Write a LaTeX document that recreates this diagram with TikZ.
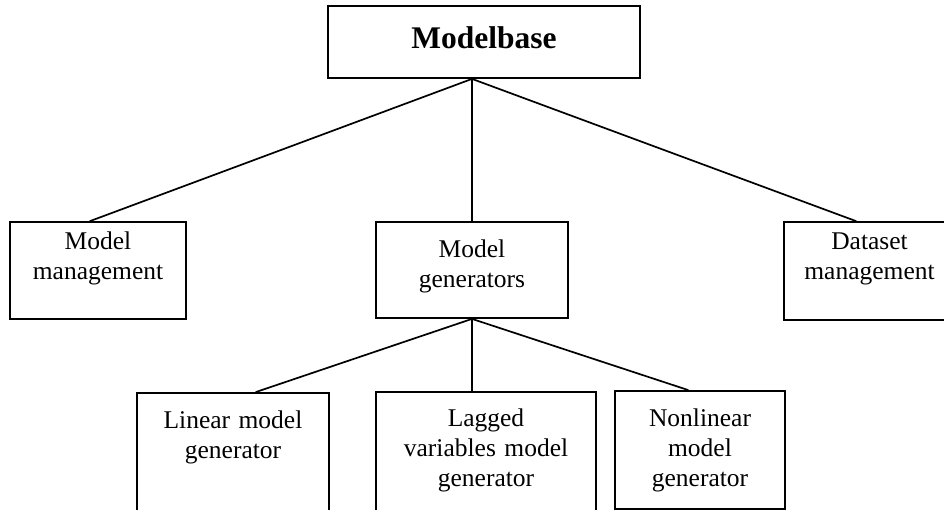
\documentclass[tikz,border=0pt]{standalone}
\usepackage{fontspec}
\setmainfont{Liberation Serif}
\begin{document}
\begin{tikzpicture}[x=1pt,y={(0pt,-1pt)},
  boxst/.style={draw=black,line width=1.8pt,rectangle,inner sep=0pt,fill=white},
  txt/.style={text width=210pt,align=center,anchor=base,inner sep=0pt,
    font=\fontsize{25.5}{30}\selectfont},
  conn/.style={draw=black,line width=1.7pt,line cap=round}]
\clip (0,0) rectangle (944,510);
\fill[white] (0,0) rectangle (944,510);
% boxes
\node[boxst,minimum width=312pt,minimum height=72pt] (mb) at (484,42) {};
\node[boxst,minimum width=176pt,minimum height=97pt] (mm) at (98,270.5) {};
\node[boxst,minimum width=192pt,minimum height=96pt] (mg) at (472,270) {};
\node[boxst,minimum width=171pt,minimum height=98pt] (dm) at (869.5,271) {};
\node[boxst,minimum width=192pt,minimum height=150pt,anchor=north] (lin) at (233,392) {};
\node[boxst,minimum width=220pt,minimum height=150pt,anchor=north] (lag) at (486,391) {};
\node[boxst,minimum width=170pt,minimum height=118pt,anchor=north] (non) at (700,390) {};
% texts
\node[txt,font=\fontsize{31.5}{36}\selectfont\bfseries] (tmb) at ([yshift=-6.3pt]mb.center) {Modelbase};
\node[txt] (tmm) at ([yshift=-28pt]mm.north) {Model\\management};
\node[txt] (tmg) at ([yshift=-36pt]mg.north) {Model\\generators};
\node[txt] (tdm) at ([yshift=-28pt]dm.north) {Dataset\\management};
\node[txt] (tlin) at ([yshift=-36pt]lin.north) {Linear model\\generator};
\node[txt] (tlag) at ([yshift=-35pt]lag.north) {Lagged\\variables model\\generator};
\node[txt] (tnon) at ([yshift=-36pt]non.north) {Nonlinear\\model\\generator};
% connectors
\draw[conn] ([xshift=-12pt]mb.south) -- ([xshift=-8pt]mm.north);
\draw[conn] ([xshift=-12pt]mb.south) -- (mg.north);
\draw[conn] ([xshift=-12pt]mb.south) -- ([xshift=-13.5pt]dm.north);
\draw[conn] (mg.south) -- ([xshift=23pt]lin.north);
\draw[conn] (mg.south) -- ([xshift=-14pt]lag.north);
\draw[conn] (mg.south) -- ([xshift=-12pt]non.north);
\end{tikzpicture}
\end{document}
